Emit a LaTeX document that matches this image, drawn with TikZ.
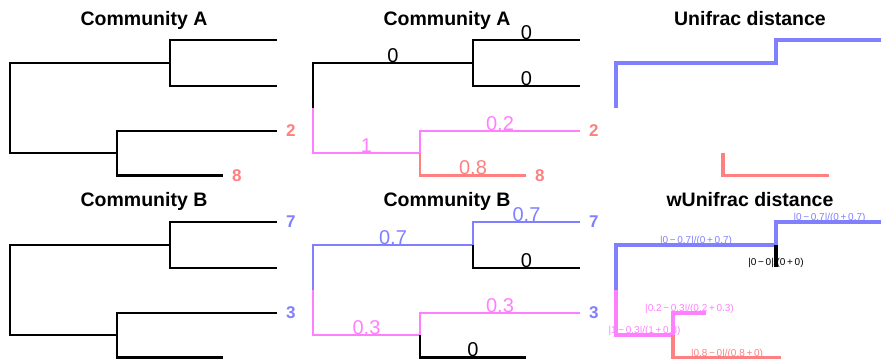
\documentclass[tikz,border=0pt]{standalone}
\usepackage{fontspec}
\setmainfont{Liberation Sans}
\usetikzlibrary{positioning}
\definecolor{softblue}{HTML}{8080FF}
\definecolor{softpink}{HTML}{FF80FF}
\definecolor{softred}{HTML}{FF8080}

% points of a four-leaf dendrogram: prefix, x of root, y of top leaf
\newcommand{\treecoords}[3]{%
  \coordinate (#1-root) at (#2, #3+68);
  \coordinate (#1-up) at (#2+160, #3+23);
  \coordinate (#1-low) at (#2+107, #3+113);
  \coordinate (#1-l1) at (#2+267, #3);
  \coordinate (#1-l2) at (#2+267, #3+46);
  \coordinate (#1-l3) at (#2+267, #3+91);
  \coordinate (#1-l4) at (#2+213, #3+135.5);
}

\begin{document}
\begin{tikzpicture}[x=1pt, y=-1pt]
\tikzstyle{branch} = [line width=2.9pt]
\tikzstyle{dist} = [line width=3.2pt]
\tikzstyle{title} = [anchor=base, inner sep=0pt, font=\bfseries\fontsize{19.5}{23}\selectfont]
\tikzstyle{leaflab} = [inner sep=0pt, font=\bfseries\fontsize{17}{20}\selectfont]
\tikzstyle{edgelab} = [pos=.75, anchor=base, yshift=0.8pt, inner sep=0pt, font=\fontsize{20}{24}\selectfont]
\tikzstyle{wlab} = [anchor=base, yshift=1.2pt, inner sep=0pt, font=\fontsize{10}{12}\selectfont]

\useasboundingbox[fill=white] (0,0) rectangle (881,359);

\treecoords{a}{10}{40}
\treecoords{b}{10}{222}
\treecoords{c}{313}{40}
\treecoords{d}{313}{222}
\treecoords{u}{616}{40}

% weighted tree, lower branches rescaled
\coordinate (w-root) at (616,290);
\coordinate (w-up) at (776,245);
\coordinate (w-l1) at (883,222);
\coordinate (w-l2) at (776,267);
\coordinate (w-low) at (673,335);
\coordinate (w-l3) at (706,313);
\coordinate (w-l4) at (781,357.5);

% titles
\node[title] (titleA) at (144,25) {Community A};
\node[title] (titleB) at (144,206) {Community B};
\node[title] (titleA2) at (447,25) {Community A};
\node[title] (titleB2) at (447,206) {Community B};
\node[title] (unifrac) at (750,25) {Unifrac distance};
\node[title] (wunifrac) at (750,206) {wUnifrac distance};

% plain trees
\draw[branch] (a-root) |- (a-up) (a-up) |- (a-l1) (a-up) |- (a-l2)
  (a-root) |- (a-low) (a-low) |- (a-l3) (a-low) |- (a-l4);
\draw[branch] (b-root) |- (b-up) (b-up) |- (b-l1) (b-up) |- (b-l2)
  (b-root) |- (b-low) (b-low) |- (b-l3) (b-low) |- (b-l4);

\node[leaflab, softred, right=9pt of a-l3] (a-n3) {2};
\node[leaflab, softred, right=9pt of a-l4] (a-n4) {8};
\node[leaflab, softblue, right=9pt of b-l1] (b-n1) {7};
\node[leaflab, softblue, right=9pt of b-l3] (b-n3) {3};

% trees with branch abundances
\draw[branch] (c-root) |- node[edgelab] {0} (c-up);
\draw[branch] (c-up) |- node[edgelab] {0} (c-l1);
\draw[branch] (c-up) |- node[edgelab] {0} (c-l2);
\draw[branch, softpink] (c-root) |- node[edgelab] {1} (c-low);
\draw[branch, softpink] (c-low) |- node[edgelab] {0.2} (c-l3);
\draw[branch, softred] (c-low) |- node[edgelab] {0.8} (c-l4);

\draw[branch, softblue] (d-root) |- node[edgelab] {0.7} (d-up);
\draw[branch, softblue] (d-up) |- node[edgelab] {0.7} (d-l1);
\draw[branch] (d-up) |- node[edgelab] {0} (d-l2);
\draw[branch, softpink] (d-root) |- node[edgelab] {0.3} (d-low);
\draw[branch, softpink] (d-low) |- node[edgelab] {0.3} (d-l3);
\draw[branch] (d-low) |- node[edgelab] {0} (d-l4);

\node[leaflab, softred, right=9pt of c-l3] (c-n3) {2};
\node[leaflab, softred, right=9pt of c-l4] (c-n4) {8};
\node[leaflab, softblue, right=9pt of d-l1] (d-n1) {7};
\node[leaflab, softblue, right=9pt of d-l3] (d-n3) {3};

% unweighted distance
\draw[dist, softblue] (u-root) |- (u-up) |- (u-l1);
\draw[dist, softred] (u-low) |- (u-l4);

% weighted distance
\draw[dist, softblue] (w-root) |- node[wlab, pos=.75] {|0\,−\,0.7|/(0\,+\,0.7)} (w-up)
  |- node[wlab, pos=.75] {|0\,−\,0.7|/(0\,+\,0.7)} (w-l1);
\draw[dist] (w-up) -- (w-l2) node[wlab] {|0\,−\,0|/(0\,+\,0)};
\draw[dist, softpink] (w-root) |- node[wlab, pos=.75] {|1\,−\,0.3|/(1\,+\,0.3)} (w-low)
  |- node[wlab, pos=.75] {|0.2\,−\,0.3|/(0.2\,+\,0.3)} (w-l3);
\draw[dist, softred] (w-low) |- node[wlab, pos=.75] {|0.8\,−\,0|/(0.8\,+\,0)} (w-l4);
\end{tikzpicture}
\end{document}
